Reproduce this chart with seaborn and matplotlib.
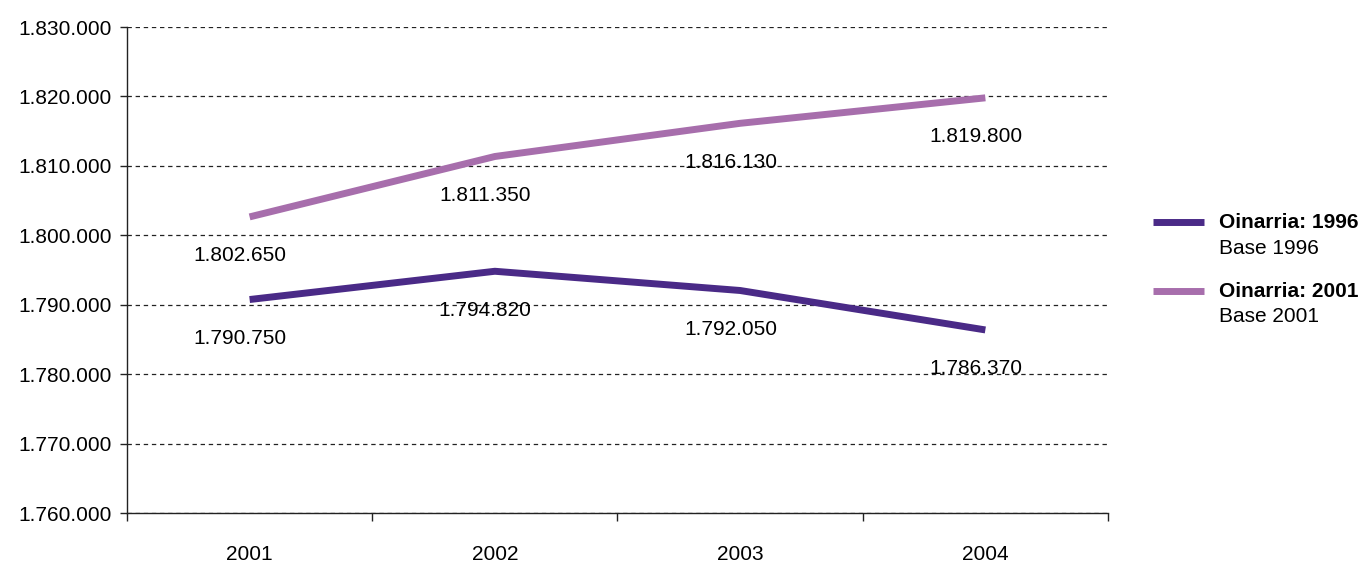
import matplotlib
matplotlib.use("Agg")
import matplotlib.pyplot as plt
import matplotlib.ticker as mticker
from matplotlib.lines import Line2D
import pandas as pd
import seaborn as sns

years = ["2001", "2002", "2003", "2004"]
base_1996 = [1790750, 1794820, 1792050, 1786370]
base_2001 = [1802650, 1811350, 1816130, 1819800]
series_names = ["Oinarria: 1996", "Oinarria: 2001"]
series_subtitles = ["Base 1996", "Base 2001"]
colors = ["#4a2a87", "#a76eac"]

sns.set_style("white")
plt.rcParams["font.family"] = ["Liberation Sans", "DejaVu Sans"]
plt.rcParams["text.color"] = "black"
plt.rcParams["xtick.color"] = "black"
plt.rcParams["ytick.color"] = "black"

df = pd.DataFrame({
    "pos": list(range(len(years))) * 2,
    "value": base_1996 + base_2001,
    "serie": [series_names[0]] * len(years) + [series_names[1]] * len(years),
})

fig = plt.figure(figsize=(13.64, 5.64), dpi=100)
ax = fig.add_axes([0.0931, 0.0904, 0.8123 - 0.0931, 0.9521 - 0.0904])

sns.lineplot(data=df, x="pos", y="value", hue="serie", palette=colors,
             linewidth=5, legend=False, ax=ax, solid_capstyle="butt")

# value labels below each point
for vals in (base_1996, base_2001):
    for i, v in enumerate(vals):
        ax.annotate(f"{v:,}".replace(",", "."), (i, v), xytext=(-7, -28),
                    textcoords="offset points", ha="center", va="center",
                    fontsize=15, color="black")

ax.set_xlim(-0.5, len(years) - 0.5)
ax.set_ylim(1760000, 1830000)
ax.yaxis.set_major_locator(mticker.MultipleLocator(10000))
ax.yaxis.set_major_formatter(
    mticker.FuncFormatter(lambda v, p: f"{int(v):,}".replace(",", ".")))
ax.set_xticks([i - 0.5 for i in range(len(years) + 1)])
ax.set_xticklabels([])
ax.set_xticks(range(len(years)), minor=True)
ax.set_xticklabels(years, minor=True)
ax.tick_params(axis="x", which="major", bottom=True, length=6, width=1,
               color="#222222", direction="out")
ax.tick_params(axis="x", which="minor", bottom=True, length=0, pad=23,
               labelsize=15, labelcolor="black")
ax.tick_params(axis="y", left=True, length=5, width=1, color="#222222",
               direction="out", pad=6, labelsize=15, labelcolor="black")
ax.set_xlabel("")
ax.set_ylabel("")

ax.yaxis.grid(True, linestyle=(0, (3.5, 3)), color="#222222", linewidth=0.9)
ax.xaxis.grid(False)
for s in ("top", "right"):
    ax.spines[s].set_visible(False)
for s in ("left", "bottom"):
    ax.spines[s].set_color("#222222")
    ax.spines[s].set_linewidth(1)

# custom legend at right
legend_y = [0.606, 0.484]
for name, sub, col, y in zip(series_names, series_subtitles, colors, legend_y):
    fig.add_artist(Line2D([0.845, 0.883], [y, y], color=col, linewidth=5,
                          solid_capstyle="butt", transform=fig.transFigure))
    fig.text(0.894, y, name, fontsize=15, fontweight="bold", va="center")
    fig.text(0.894, y - 0.046, sub, fontsize=15, va="center")

fig.savefig("out.png", dpi=100)
